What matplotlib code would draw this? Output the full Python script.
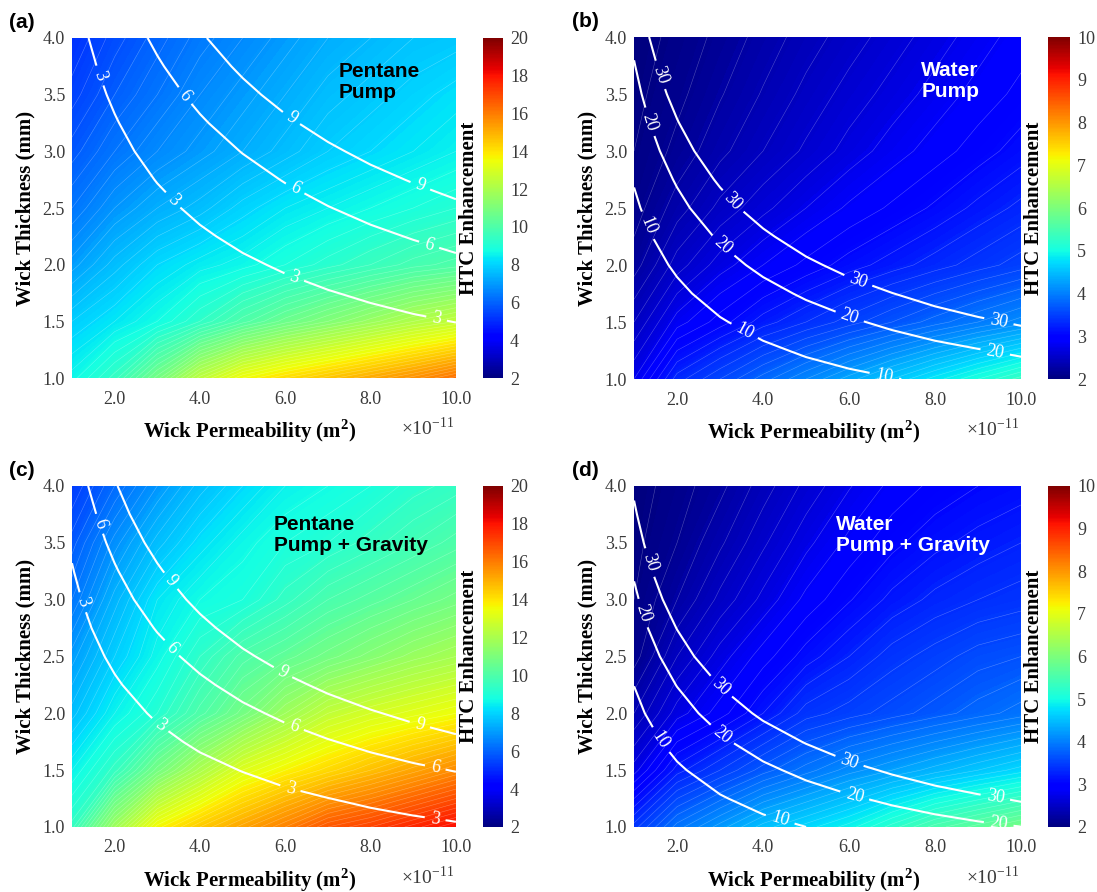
import numpy as np
import matplotlib.pyplot as plt
from matplotlib import colors, cm

plt.rcParams['font.family'] = ['Liberation Serif', 'DejaVu Serif']
plt.rcParams['mathtext.fontset'] = 'custom'
plt.rcParams['mathtext.rm'] = 'Liberation Serif'
plt.rcParams['mathtext.bf'] = 'Liberation Serif:bold'

# grid of the maps
perm = [1, 2, 3, 4, 5, 6, 7, 8, 9, 10]        # wick permeability, x1e-11 m2
thick = [1.0, 1.5, 2.0, 2.5, 3.0, 3.5, 4.0]   # wick thickness, mm (colour maps)
thick_fine = [1.0, 1.25, 1.5, 1.75, 2.0, 2.25, 2.5, 2.75, 3.0, 3.25, 3.5, 3.75, 4.0]  # white lines

# HTC enhancement (colour), rows follow thick, columns follow perm
htc_pentane_pump = [
    [8.6, 9.4, 10.8, 12.4, 13.5, 14.1, 14.6, 15.1, 15.6, 16.2],
    [7.9, 8.3, 8.7, 9.3, 10.0, 10.6, 11.1, 11.6, 12.1, 12.5],
    [7.0, 7.6, 8.1, 8.4, 8.6, 8.9, 9.2, 9.5, 9.8, 10.0],
    [6.3, 6.9, 7.3, 7.6, 8.0, 8.3, 8.5, 8.7, 8.9, 9.1],
    [5.8, 6.3, 6.7, 7.0, 7.3, 7.6, 7.9, 8.1, 8.3, 8.5],
    [5.4, 5.9, 6.3, 6.7, 7.0, 7.3, 7.6, 7.8, 8.0, 8.2],
    [5.1, 5.6, 6.0, 6.4, 6.7, 7.0, 7.3, 7.5, 7.7, 7.8],
]
htc_water_pump = [
    [2.75, 3.3, 3.55, 3.8, 4.05, 4.3, 4.55, 4.8, 5.05, 5.3],
    [2.45, 2.8, 3.0, 3.2, 3.35, 3.5, 3.65, 3.8, 3.95, 4.1],
    [2.2, 2.5, 2.7, 2.85, 2.98, 3.1, 3.2, 3.3, 3.4, 3.5],
    [2.1, 2.3, 2.48, 2.62, 2.75, 2.87, 2.97, 3.07, 3.18, 3.28],
    [2.05, 2.18, 2.32, 2.45, 2.57, 2.69, 2.8, 2.9, 3.0, 3.1],
    [2.02, 2.12, 2.24, 2.36, 2.48, 2.59, 2.69, 2.79, 2.89, 2.98],
    [2.0, 2.08, 2.18, 2.29, 2.4, 2.5, 2.6, 2.7, 2.8, 2.9],
]
htc_pentane_grav = [
    [9.4, 11.7, 13.6, 14.5, 15.2, 15.9, 16.7, 17.1, 17.6, 18.1],
    [8.5, 9.4, 10.8, 12.0, 13.1, 13.7, 14.2, 14.7, 15.2, 15.7],
    [7.6, 8.5, 9.1, 10.0, 10.8, 11.7, 12.5, 12.9, 13.2, 13.5],
    [7.0, 7.9, 8.6, 9.3, 10.0, 10.4, 10.8, 11.2, 11.6, 11.9],
    [6.3, 7.4, 8.3, 8.7, 8.9, 9.4, 9.9, 10.2, 10.5, 10.8],
    [5.8, 6.8, 7.6, 8.2, 8.6, 8.9, 9.1, 9.4, 9.7, 10.0],
    [5.3, 6.1, 6.9, 7.6, 8.1, 8.5, 8.7, 8.9, 9.2, 9.4],
]
htc_water_grav = [
    [3.4, 3.9, 4.2, 4.5, 4.7, 4.9, 5.2, 5.5, 5.7, 5.9],
    [2.7, 3.2, 3.45, 3.7, 3.9, 4.1, 4.25, 4.4, 4.55, 4.7],
    [2.35, 2.7, 2.9, 3.15, 3.4, 3.5, 3.6, 3.7, 3.8, 3.9],
    [2.1, 2.45, 2.7, 2.9, 3.1, 3.25, 3.4, 3.5, 3.6, 3.65],
    [2.05, 2.25, 2.48, 2.68, 2.88, 3.04, 3.18, 3.28, 3.35, 3.4],
    [2.02, 2.15, 2.33, 2.53, 2.72, 2.88, 3.02, 3.12, 3.19, 3.25],
    [2.0, 2.1, 2.22, 2.4, 2.58, 2.74, 2.88, 2.98, 3.05, 3.1],
]

# quantity drawn as white labelled lines, rows follow thick_fine
line_pentane_pump = [
    [0.14, 0.27, 0.41, 0.54, 0.68, 0.81, 0.95, 1.08, 1.22, 1.35],
    [0.21, 0.42, 0.63, 0.84, 1.06, 1.27, 1.48, 1.69, 1.90, 2.11],
    [0.30, 0.61, 0.91, 1.22, 1.52, 1.82, 2.13, 2.43, 2.74, 3.04],
    [0.41, 0.83, 1.24, 1.66, 2.07, 2.48, 2.90, 3.31, 3.73, 4.14],
    [0.54, 1.08, 1.62, 2.16, 2.70, 3.24, 3.78, 4.32, 4.86, 5.41],
    [0.68, 1.37, 2.05, 2.74, 3.42, 4.10, 4.79, 5.47, 6.16, 6.84],
    [0.84, 1.69, 2.53, 3.38, 4.22, 5.07, 5.91, 6.76, 7.60, 8.45],
    [1.02, 2.04, 3.07, 4.09, 5.11, 6.13, 7.15, 8.18, 9.20, 10.22],
    [1.22, 2.43, 3.65, 4.86, 6.08, 7.30, 8.51, 9.73, 10.95, 12.16],
    [1.43, 2.85, 4.28, 5.71, 7.14, 8.56, 9.99, 11.42, 12.85, 14.27],
    [1.66, 3.31, 4.97, 6.62, 8.28, 9.93, 11.59, 13.24, 14.90, 16.55],
    [1.90, 3.80, 5.70, 7.60, 9.50, 11.40, 13.30, 15.20, 17.10, 19.00],
    [2.16, 4.32, 6.49, 8.65, 10.81, 12.97, 15.14, 17.30, 19.46, 21.62],
]
line_water_pump = [
    [1.4, 2.8, 4.2, 5.6, 7.0, 8.3, 9.7, 11.1, 12.5, 13.9],
    [2.2, 4.3, 6.5, 8.7, 10.9, 13.0, 15.2, 17.4, 19.5, 21.7],
    [3.1, 6.3, 9.4, 12.5, 15.6, 18.8, 21.9, 25.0, 28.2, 31.3],
    [4.3, 8.5, 12.8, 17.0, 21.3, 25.5, 29.8, 34.1, 38.3, 42.6],
    [5.6, 11.1, 16.7, 22.2, 27.8, 33.4, 38.9, 44.5, 50.0, 55.6],
    [7.0, 14.1, 21.1, 28.1, 35.2, 42.2, 49.3, 56.3, 63.3, 70.4],
    [8.7, 17.4, 26.1, 34.8, 43.4, 52.1, 60.8, 69.5, 78.2, 86.9],
    [10.5, 21.0, 31.5, 42.0, 52.6, 63.1, 73.6, 84.1, 94.6, 105.1],
    [12.5, 25.0, 37.5, 50.0, 62.6, 75.1, 87.6, 100.1, 112.6, 125.1],
    [14.7, 29.4, 44.0, 58.7, 73.4, 88.1, 102.8, 117.5, 132.1, 146.8],
    [17.0, 34.1, 51.1, 68.1, 85.1, 102.2, 119.2, 136.2, 153.3, 170.3],
    [19.5, 39.1, 58.6, 78.2, 97.7, 117.3, 136.8, 156.4, 175.9, 195.5],
    [22.2, 44.5, 66.7, 89.0, 111.2, 133.4, 155.7, 177.9, 200.2, 222.4],
]
line_pentane_grav = [
    [0.27, 0.54, 0.82, 1.09, 1.36, 1.63, 1.90, 2.17, 2.45, 2.72],
    [0.42, 0.85, 1.27, 1.70, 2.12, 2.55, 2.97, 3.40, 3.82, 4.25],
    [0.61, 1.22, 1.83, 2.45, 3.06, 3.67, 4.28, 4.89, 5.50, 6.11],
    [0.83, 1.66, 2.50, 3.33, 4.16, 4.99, 5.83, 6.66, 7.49, 8.32],
    [1.09, 2.17, 3.26, 4.35, 5.43, 6.52, 7.61, 8.70, 9.78, 10.87],
    [1.38, 2.75, 4.13, 5.50, 6.88, 8.25, 9.63, 11.01, 12.38, 13.76],
    [1.70, 3.40, 5.10, 6.79, 8.49, 10.19, 11.89, 13.59, 15.29, 16.98],
    [2.06, 4.11, 6.17, 8.22, 10.28, 12.33, 14.39, 16.44, 18.50, 20.55],
    [2.45, 4.89, 7.34, 9.78, 12.23, 14.67, 17.12, 19.57, 22.01, 24.46],
    [2.87, 5.74, 8.61, 11.48, 14.35, 17.22, 20.09, 22.96, 25.83, 28.70],
    [3.33, 6.66, 9.99, 13.32, 16.64, 19.97, 23.30, 26.63, 29.96, 33.29],
    [3.82, 7.64, 11.46, 15.29, 19.11, 22.93, 26.75, 30.57, 34.39, 38.21],
    [4.35, 8.70, 13.04, 17.39, 21.74, 26.09, 30.43, 34.78, 39.13, 43.48],
]
line_water_grav = [
    [2.0, 4.0, 6.0, 8.0, 10.0, 12.0, 14.0, 16.0, 18.0, 19.9],
    [3.1, 6.3, 9.4, 12.5, 15.6, 18.8, 21.9, 25.0, 28.1, 31.3],
    [4.5, 9.0, 13.5, 18.0, 22.5, 27.0, 31.5, 36.0, 40.5, 45.0],
    [6.1, 12.3, 18.4, 24.5, 30.6, 36.8, 42.9, 49.0, 55.1, 61.3],
    [8.0, 16.0, 24.0, 32.0, 40.0, 48.0, 56.0, 64.0, 72.0, 80.0],
    [10.1, 20.3, 30.4, 40.5, 50.6, 60.8, 70.9, 81.0, 91.1, 101.3],
    [12.5, 25.0, 37.5, 50.0, 62.5, 75.0, 87.5, 100.0, 112.5, 125.0],
    [15.1, 30.3, 45.4, 60.5, 75.6, 90.8, 105.9, 121.0, 136.1, 151.3],
    [18.0, 36.0, 54.0, 72.0, 90.0, 108.0, 126.0, 144.0, 162.0, 180.0],
    [21.1, 42.3, 63.4, 84.5, 105.6, 126.8, 147.9, 169.0, 190.1, 211.3],
    [24.5, 49.0, 73.5, 98.0, 122.5, 147.0, 171.5, 196.0, 220.5, 245.0],
    [28.1, 56.3, 84.4, 112.5, 140.6, 168.8, 196.9, 225.0, 253.1, 281.3],
    [32.0, 64.0, 96.0, 128.0, 160.0, 192.0, 224.0, 256.0, 288.0, 320.0],
]

pentane_levels = [3, 6, 9]
water_levels = [10, 20, 30]

panels = [
    dict(tag='(a)', htc=htc_pentane_pump, line=line_pentane_pump, lev=pentane_levels,
         vmax=20, title='Pentane\nPump', tcol='black', tpos=(0.695, 0.93),
         ax=[0.0656, 0.5762, 0.3500, 0.3812], cax=[0.4403, 0.5762, 0.0182, 0.3812],
         lab=[(1.59, 3.66), (3.34, 2.56), (6.2, 1.88), (9.55, 1.53), (3.58, 3.47),
              (6.2, 2.65), (9.36, 2.16), (6.12, 3.28), (9.16, 2.69)]),
    dict(tag='(b)', htc=htc_water_pump, line=line_water_pump, lev=water_levels,
         vmax=10, title='Water\nPump', tcol='white', tpos=(0.742, 0.93),
         ax=[0.5780, 0.5751, 0.3528, 0.3834], cax=[0.9553, 0.5751, 0.0201, 0.3834],
         lab=[(1.55, 3.66), (1.31, 3.25), (1.27, 2.34), (3.3, 2.56), (3.03, 2.15),
              (3.54, 1.40), (6.2, 1.85), (6.0, 1.53), (6.82, 1.03), (9.48, 1.5),
              (9.4, 1.24)]),
    dict(tag='(c)', htc=htc_pentane_grav, line=line_pentane_grav, lev=pentane_levels,
         vmax=20, title='Pentane\nPump + Gravity', tcol='black', tpos=(0.525, 0.915),
         ax=[0.0656, 0.0729, 0.3500, 0.3823], cax=[0.4403, 0.0729, 0.0182, 0.3823],
         lab=[(1.59, 3.66), (1.2, 2.97), (3.3, 3.16), (3.3, 2.56), (3.07, 1.90),
              (5.96, 2.37), (6.2, 1.88), (6.12, 1.34), (9.16, 1.91), (9.52, 1.53),
              (9.52, 1.09)]),
    dict(tag='(d)', htc=htc_water_grav, line=line_water_grav, lev=water_levels,
         vmax=10, title='Water\nPump + Gravity', tcol='white', tpos=(0.522, 0.915),
         ax=[0.5780, 0.0729, 0.3528, 0.3823], cax=[0.9553, 0.0729, 0.0201, 0.3823],
         lab=[(1.31, 3.32), (1.2, 2.88), (1.55, 1.75), (3.03, 2.24), (3.0, 1.79),
              (4.4, 1.07), (6.0, 1.57), (6.12, 1.26), (9.4, 1.26), (9.48, 1.03)]),
]

gray = '#3a3a3a'
fig = plt.figure(figsize=(10.97, 8.92), dpi=100)

for p in panels:
    ax = fig.add_axes(p['ax'])
    cax = fig.add_axes(p['cax'])
    vmin, vmax = 2, p['vmax']
    norm = colors.Normalize(vmin=vmin, vmax=vmax)
    z = np.array(p['htc'])

    ax.contourf(perm, thick, z, levels=np.linspace(vmin, vmax, 241), cmap='jet', norm=norm)
    # faint level lines of the filled map
    step = 0.2 if vmax == 20 else 0.1
    ax.contour(perm, thick, z, levels=np.arange(vmin + step / 2, vmax, step),
               colors='white', linewidths=0.4, alpha=0.3)

    cs = ax.contour(perm, thick_fine, np.array(p['line']), levels=p['lev'],
                    colors='white', linewidths=1.5)
    ax.clabel(cs, fmt='%d', fontsize=13, inline=True, inline_spacing=6,
              manual=p['lab'])

    ax.set_xlim(1, 10)
    ax.set_ylim(1, 4)
    ax.set_xticks([2, 4, 6, 8, 10])
    ax.set_xticklabels(['2.0', '4.0', '6.0', '8.0', '10.0'])
    ax.set_yticks([1.0, 1.5, 2.0, 2.5, 3.0, 3.5, 4.0])
    ax.set_yticklabels(['1.0', '1.5', '2.0', '2.5', '3.0', '3.5', '4.0'])
    ax.tick_params(length=0, labelsize=13, labelcolor=gray)
    ax.tick_params(axis='x', pad=9)
    ax.tick_params(axis='y', pad=5)
    for s in ax.spines.values():
        s.set_visible(False)

    ax.set_xlabel('Wick Permeability (m$^{\\mathbf{2}}$)', fontsize=15, fontweight='bold')
    ax.xaxis.set_label_coords(0.463, -0.115)
    ax.set_ylabel('Wick Thickness (mm)', fontsize=15, fontweight='bold')
    ax.yaxis.set_label_coords(-0.095, 0.5)
    ax.text(0.995, -0.112, '\u00d710$^{-11}$', transform=ax.transAxes, ha='right',
            va='top', fontsize=14, color=gray)

    ax.text(p['tpos'][0], p['tpos'][1], p['title'], transform=ax.transAxes,
            ha='left', va='top', fontsize=15, fontweight='bold',
            family=['Liberation Sans', 'DejaVu Sans'], color=p['tcol'], linespacing=1.15)

    sm = cm.ScalarMappable(norm=norm, cmap='jet')
    cb = fig.colorbar(sm, cax=cax, ticks=np.arange(vmin, vmax + 1, 2 if vmax == 20 else 1))
    cb.outline.set_visible(False)
    cax.tick_params(length=0, labelsize=13, labelcolor=gray, pad=5)
    cb.set_label('HTC Enhancement', fontsize=15, fontweight='bold', labelpad=3)
    cax.yaxis.set_label_position('left')

    bb = ax.get_position()
    fig.text(bb.x0 - 0.057, bb.y1 + 0.017, p['tag'], fontsize=15, fontweight='bold',
             family=['Liberation Sans', 'DejaVu Sans'], va='center', ha='left')

fig.savefig('out.png', dpi=100)
